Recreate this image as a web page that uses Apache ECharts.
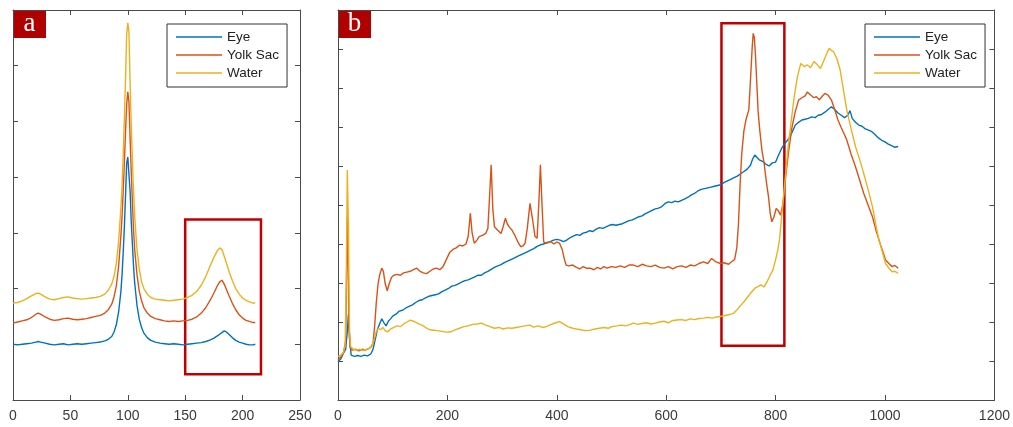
<!DOCTYPE html>
<html>
<head>
<meta charset="utf-8">
<title>Spectra</title>
<script src="https://cdn.jsdelivr.net/npm/echarts@6/dist/echarts.min.js"></script>
<style>
  html, body { margin: 0; padding: 0; background: #fff; }
  #chart { width: 1013px; height: 427px; }
</style>
</head>
<body>
<div id="chart"></div>
<script>
// legend / series names
var seriesNames = ['Eye', 'Yolk Sac', 'Water'];

// panel a tick labels
var ticksXA = [0, 50, 100, 150, 200, 250];
// panel b tick labels
var ticksXB = [0, 200, 400, 600, 800, 1000, 1200];

// panel a: [x, y]
var eyeA = [[0,1.00],[4,0.99],[8,1.00],[12,1.01],[16,1.02],[20,1.04],[22,1.05],[24,1.04],[28,1.02],[32,1.00],[36,0.99],[40,1.00],[44,1.01],[48,0.99],[52,1.00],[56,1.01],[60,1.00],[64,1.01],[68,1.02],[72,1.03],[76,1.04],[80,1.06],[83,1.09],[86,1.14],[88,1.22],[90,1.35],[92,1.58],[94,1.95],[95,2.25],[96,2.65],[97,3.10],[98,3.65],[99,4.25],[100,4.36],[101,4.05],[102,3.75],[103,3.20],[104,2.80],[105,2.40],[106,2.10],[108,1.70],[110,1.45],[112,1.30],[114,1.20],[117,1.12],[120,1.07],[124,1.04],[128,1.02],[132,1.01],[136,1.00],[140,1.01],[144,1.00],[148,0.99],[152,1.00],[156,1.01],[160,1.02],[164,1.03],[168,1.05],[172,1.08],[175,1.11],[178,1.15],[180,1.18],[182,1.21],[184,1.24],[186,1.22],[188,1.18],[191,1.12],[194,1.07],[197,1.04],[200,1.02],[203,1.00],[206,0.99],[209,0.99],[211,1.00]];
var yolkA = [[0,1.38],[4,1.40],[8,1.42],[12,1.44],[16,1.48],[20,1.54],[22,1.56],[24,1.54],[28,1.49],[32,1.45],[36,1.43],[40,1.44],[44,1.46],[48,1.47],[52,1.45],[56,1.44],[60,1.45],[64,1.46],[68,1.48],[72,1.50],[76,1.52],[80,1.56],[83,1.62],[86,1.72],[88,1.85],[90,2.05],[92,2.40],[94,2.95],[95,3.30],[96,3.75],[97,4.25],[98,4.80],[99,5.30],[100,5.53],[101,5.35],[102,4.70],[103,4.10],[104,3.55],[105,3.05],[106,2.70],[108,2.25],[110,1.95],[112,1.78],[114,1.66],[117,1.56],[120,1.50],[124,1.46],[128,1.44],[132,1.42],[136,1.41],[140,1.42],[144,1.41],[148,1.42],[152,1.43],[156,1.45],[160,1.49],[164,1.56],[168,1.66],[172,1.80],[175,1.92],[178,2.05],[180,2.12],[182,2.15],[184,2.08],[186,1.98],[188,1.88],[191,1.74],[194,1.62],[197,1.53],[200,1.47],[203,1.43],[206,1.41],[209,1.39],[211,1.39]];
var waterA = [[0,1.74],[4,1.75],[8,1.78],[12,1.82],[16,1.87],[20,1.91],[22,1.92],[24,1.90],[28,1.85],[32,1.81],[36,1.80],[40,1.82],[44,1.84],[48,1.85],[52,1.83],[56,1.82],[60,1.81],[64,1.82],[68,1.83],[72,1.84],[76,1.86],[80,1.90],[83,1.97],[86,2.08],[88,2.22],[90,2.45],[92,2.85],[94,3.45],[95,3.85],[96,4.40],[97,5.05],[98,5.75],[99,6.55],[100,6.77],[101,6.60],[102,5.70],[103,4.95],[104,4.30],[105,3.75],[106,3.30],[108,2.70],[110,2.35],[112,2.12],[114,2.00],[117,1.90],[120,1.84],[124,1.81],[128,1.80],[132,1.79],[136,1.78],[140,1.79],[144,1.80],[148,1.81],[152,1.84],[156,1.88],[160,1.95],[164,2.06],[168,2.22],[172,2.42],[175,2.56],[178,2.68],[180,2.73],[182,2.70],[184,2.58],[186,2.45],[188,2.32],[191,2.15],[194,2.00],[197,1.90],[200,1.83],[203,1.79],[206,1.76],[209,1.74],[211,1.74]];

// panel b: [x, y]
var eyeB = [[0,0.98],[5,1.05],[10,1.2],[14,1.3],[17,1.75],[19,2.2],[21,1.6],[24,1.15],[30,1.12],[36,1.14],[42,1.12],[48,1.15],[54,1.13],[60,1.18],[64,1.3],[68,1.55],[72,1.8],[76,1.95],[80,2.08],[84,1.98],[88,1.9],[92,2.02],[96,2.08],[100,2.15],[106,2.2],[112,2.28],[118,2.3],[124,2.36],[130,2.4],[136,2.44],[142,2.5],[148,2.55],[154,2.57],[160,2.62],[166,2.66],[172,2.68],[178,2.7],[184,2.72],[190,2.78],[196,2.82],[202,2.86],[208,2.92],[214,2.94],[220,2.98],[226,3.02],[232,3.06],[238,3.08],[244,3.12],[250,3.16],[256,3.2],[262,3.2],[268,3.26],[274,3.3],[280,3.35],[286,3.4],[292,3.44],[298,3.47],[304,3.52],[310,3.56],[316,3.6],[322,3.64],[328,3.68],[334,3.72],[340,3.76],[346,3.8],[352,3.84],[358,3.88],[364,3.94],[370,3.98],[376,4.0],[382,4.04],[388,4.06],[394,4.1],[400,4.12],[406,4.1],[412,4.06],[418,4.1],[424,4.16],[430,4.2],[436,4.24],[442,4.22],[448,4.28],[454,4.3],[460,4.34],[466,4.32],[472,4.38],[478,4.42],[484,4.4],[490,4.44],[496,4.48],[502,4.5],[508,4.48],[514,4.5],[520,4.52],[526,4.56],[532,4.6],[538,4.62],[544,4.66],[550,4.7],[556,4.72],[562,4.78],[568,4.82],[574,4.86],[580,4.9],[586,4.92],[592,4.96],[598,5.04],[604,5.08],[610,5.06],[616,5.1],[622,5.08],[628,5.12],[634,5.16],[640,5.2],[646,5.26],[652,5.3],[658,5.36],[664,5.4],[670,5.42],[676,5.44],[682,5.46],[688,5.48],[694,5.5],[700,5.52],[706,5.58],[712,5.62],[718,5.66],[724,5.7],[730,5.74],[736,5.8],[742,5.86],[748,5.92],[754,6.02],[758,6.18],[762,6.28],[766,6.22],[770,6.16],[776,6.12],[782,6.05],[788,6.0],[794,6.08],[800,6.1],[806,6.3],[812,6.48],[818,6.6],[824,6.7],[830,6.86],[836,7.05],[842,7.12],[848,7.18],[854,7.2],[860,7.22],[866,7.26],[872,7.24],[878,7.3],[884,7.32],[890,7.38],[896,7.45],[902,7.52],[908,7.45],[914,7.36],[920,7.3],[926,7.24],[932,7.3],[936,7.42],[940,7.22],[946,7.12],[952,7.05],[958,7.02],[964,6.95],[970,6.92],[976,6.88],[982,6.8],[988,6.72],[994,6.66],[1000,6.62],[1006,6.56],[1012,6.52],[1018,6.48],[1024,6.5]];
var yolkB = [[0,1.03],[5,1.1],[10,1.22],[14,1.5],[16,3.5],[17,4.7],[18,4.2],[20,2.0],[22,1.35],[26,1.28],[32,1.3],[38,1.26],[44,1.3],[50,1.28],[56,1.32],[60,1.35],[64,1.45],[67,1.9],[70,2.5],[73,2.95],[76,3.2],[80,3.38],[83,3.3],[86,3.0],[90,2.8],[94,3.0],[98,3.15],[102,3.2],[108,3.22],[114,3.2],[120,3.26],[126,3.28],[132,3.3],[138,3.34],[144,3.38],[150,3.3],[156,3.26],[162,3.24],[168,3.3],[174,3.36],[180,3.38],[186,3.34],[192,3.42],[198,3.6],[204,3.78],[210,3.86],[216,3.9],[222,3.97],[228,3.95],[234,4.0],[238,4.2],[242,4.79],[245,4.3],[249,4.02],[254,4.1],[258,4.19],[264,4.22],[270,4.27],[274,4.4],[277,5.2],[280,6.03],[283,4.9],[286,4.44],[292,4.35],[298,4.27],[302,4.45],[306,4.66],[310,4.5],[314,4.42],[318,4.36],[324,4.2],[330,4.02],[334,3.93],[338,3.95],[342,4.02],[346,4.4],[351,5.04],[356,4.6],[360,4.2],[364,4.15],[367,5.0],[370,6.03],[373,5.0],[376,4.05],[382,4.02],[389,4.06],[395,4.0],[400,4.05],[405,4.02],[410,3.85],[414,3.6],[417,3.46],[422,3.44],[429,3.46],[436,3.4],[442,3.36],[448,3.42],[454,3.38],[461,3.38],[468,3.34],[474,3.4],[480,3.36],[486,3.42],[492,3.38],[500,3.42],[508,3.4],[516,3.44],[524,3.4],[532,3.46],[540,3.46],[548,3.42],[556,3.48],[564,3.44],[572,3.42],[580,3.46],[588,3.4],[596,3.38],[604,3.42],[612,3.36],[620,3.42],[628,3.44],[636,3.4],[644,3.46],[652,3.44],[660,3.5],[668,3.54],[676,3.5],[683,3.63],[690,3.55],[699,3.5],[706,3.52],[714,3.48],[720,3.55],[725,3.6],[729,3.9],[732,4.5],[735,5.5],[738,6.3],[742,6.9],[746,7.2],[751,7.44],[754,8.2],[757,9.0],[759,9.4],[761,9.3],[763,8.89],[766,8.0],[768,7.4],[771,6.92],[775,6.4],[779,6.07],[783,5.6],[787,5.21],[790,4.8],[793,4.57],[797,4.7],[801,4.91],[805,4.85],[809,4.74],[813,5.0],[816,5.4],[819,5.81],[824,6.4],[830,7.0],[836,7.4],[842,7.69],[848,7.75],[854,7.8],[858,7.9],[864,7.82],[870,7.75],[874,7.78],[880,7.7],[886,7.8],[890,7.86],[896,7.82],[902,7.69],[908,7.45],[914,7.18],[920,6.98],[926,6.8],[930,6.67],[938,6.3],[946,5.98],[954,5.62],[961,5.3],[969,5.0],[977,4.7],[983,4.38],[989,4.1],[995,3.85],[1001,3.59],[1007,3.5],[1013,3.42],[1018,3.45],[1024,3.38]];
var waterB = [[0,1.11],[5,1.15],[10,1.22],[13,1.4],[15,3.0],[17,5.9],[19,4.5],[21,1.8],[23,1.37],[28,1.3],[34,1.28],[40,1.3],[46,1.27],[52,1.3],[58,1.33],[62,1.38],[66,1.55],[70,1.75],[74,1.84],[78,1.8],[82,1.86],[86,1.78],[91,1.75],[96,1.82],[102,1.86],[108,1.9],[114,1.88],[120,1.95],[126,2.0],[132,2.05],[138,2.02],[144,1.98],[150,1.94],[156,1.9],[162,1.84],[168,1.8],[175,1.79],[182,1.78],[190,1.76],[198,1.74],[207,1.75],[214,1.8],[222,1.84],[230,1.88],[238,1.9],[246,1.94],[254,1.95],[262,1.97],[270,1.92],[278,1.88],[286,1.84],[294,1.86],[302,1.82],[310,1.85],[318,1.84],[326,1.86],[334,1.88],[342,1.9],[350,1.92],[358,1.87],[366,1.9],[374,1.86],[381,1.88],[390,1.94],[398,1.98],[405,2.01],[412,1.95],[420,1.88],[429,1.84],[436,1.82],[444,1.8],[452,1.78],[461,1.79],[470,1.82],[478,1.84],[486,1.86],[494,1.84],[501,1.88],[510,1.9],[518,1.92],[526,1.9],[534,1.94],[540,1.97],[548,1.94],[556,1.96],[564,1.98],[572,1.95],[580,1.97],[588,2.0],[596,2.02],[604,1.98],[612,2.04],[620,2.05],[628,2.06],[636,2.04],[644,2.08],[652,2.06],[660,2.09],[668,2.1],[676,2.12],[684,2.1],[692,2.13],[699,2.14],[706,2.16],[712,2.18],[718,2.2],[723,2.22],[730,2.32],[736,2.42],[742,2.52],[747,2.61],[752,2.7],[758,2.8],[763,2.88],[767,2.9],[773,2.95],[779,2.9],[785,3.05],[790,3.2],[795,3.33],[800,3.6],[804,3.85],[807,4.1],[811,4.7],[815,5.3],[819,5.9],[823,6.5],[828,7.1],[834,7.78],[840,8.3],[846,8.63],[852,8.55],[858,8.59],[864,8.52],[870,8.68],[876,8.6],[882,8.5],[888,8.7],[894,8.9],[898,9.02],[902,8.96],[906,8.93],[912,8.75],[918,8.46],[924,7.95],[930,7.44],[938,6.95],[946,6.5],[954,6.15],[961,5.81],[969,5.4],[977,4.96],[983,4.5],[989,4.1],[995,3.8],[1001,3.5],[1007,3.38],[1013,3.29],[1018,3.3],[1024,3.25]];

// highlighted regions, data coords [x, y] corners
var boxA = [[150, 0.46], [216, 3.24]];
var boxB = [[701, 1.39], [816, 9.66]];

var colors = ['#0072BD', '#D95319', '#EDB120'];
var axisColor = '#4a4a4a';
var font = '"Liberation Sans", Arial, sans-serif';

function xAx(grid, max, interval, pos) {
    return {
        type: 'value', gridIndex: grid, min: 0, max: max, interval: interval,
        position: pos,
        axisLine: {show: true, onZero: false, lineStyle: {color: axisColor, width: 1}},
        axisTick: {show: true, inside: true, length: 5, lineStyle: {color: axisColor}},
        axisLabel: {
            show: pos === 'bottom', color: '#3a3a3a', fontSize: 14, fontFamily: font, margin: 9,
            formatter: function (v) { return String(v); }
        },
        splitLine: {show: false}
    };
}

function yAx(grid, max, pos) {
    return {
        type: 'value', gridIndex: grid, min: 0, max: max, interval: 1,
        position: pos,
        axisLine: {show: true, onZero: false, lineStyle: {color: axisColor, width: 1}},
        axisTick: {show: true, inside: true, length: 5, lineStyle: {color: axisColor}},
        axisLabel: {show: false},
        splitLine: {show: false}
    };
}

function line(name, data, xi, color, box) {
    var s = {
        name: name, type: 'line', data: data,
        xAxisIndex: xi, yAxisIndex: xi,
        symbol: 'none', smooth: false,
        lineStyle: {color: color, width: 1.4},
        itemStyle: {color: color}
    };
    if (box) {
        s.markArea = {
            silent: true,
            itemStyle: {color: 'rgba(0,0,0,0)', borderColor: '#C00000', borderWidth: 2.5},
            data: [[{coord: box[0]}, {coord: box[1]}]]
        };
    }
    return s;
}

function legendAt(left) {
    return {
        data: seriesNames.map(function (n, i) {
            return {name: n, icon: 'rect', itemStyle: {color: colors[i]}};
        }),
        orient: 'vertical', left: left, top: 24,
        backgroundColor: '#fff', borderColor: '#333', borderWidth: 1,
        padding: [6, 8, 7, 9], itemGap: 4, itemWidth: 46, itemHeight: 1.4, itemTextGap: 4,
        textStyle: {fontSize: 13.5, fontFamily: font, color: '#222', lineHeight: 14},
        selectedMode: false
    };
}

function tag(left, letter) {
    return {
        type: 'group', left: left, top: 10,
        children: [
            {type: 'rect', shape: {x: 0, y: 0, width: 33, height: 28}, style: {fill: '#B00000'}},
            {type: 'text', x: 16.5, y: 14, style: {text: letter, fill: '#fff', fontSize: 27,
                fontFamily: '"Liberation Serif", "DejaVu Serif", serif', align: 'center', verticalAlign: 'middle'}}
        ]
    };
}

var chart = echarts.init(document.getElementById('chart'));
chart.setOption({
    animation: false,
    backgroundColor: '#fff',
    grid: [
        {left: 13, top: 10, width: 287, height: 390},
        {left: 338, top: 10, width: 659, height: 390}
    ],
    xAxis: [
        xAx(0, ticksXA[ticksXA.length - 1], ticksXA[1] - ticksXA[0], 'bottom'),
        xAx(0, ticksXA[ticksXA.length - 1], ticksXA[1] - ticksXA[0], 'top'),
        xAx(1, ticksXB[ticksXB.length - 1], ticksXB[1] - ticksXB[0], 'bottom'),
        xAx(1, ticksXB[ticksXB.length - 1], ticksXB[1] - ticksXB[0], 'top')
    ],
    yAxis: [yAx(0, 7, 'left'), yAx(0, 7, 'right'), yAx(1, 10, 'left'), yAx(1, 10, 'right')],
    legend: [legendAt(167), legendAt(865)],
    series: [
        line(seriesNames[0], eyeA, 0, colors[0]),
        line(seriesNames[1], yolkA, 0, colors[1]),
        line(seriesNames[2], waterA, 0, colors[2], boxA),
        line(seriesNames[0], eyeB, 2, colors[0]),
        line(seriesNames[1], yolkB, 2, colors[1]),
        line(seriesNames[2], waterB, 2, colors[2], boxB)
    ],
    graphic: [tag(13, 'a'), tag(338, 'b')]
});
</script>
</body>
</html>
